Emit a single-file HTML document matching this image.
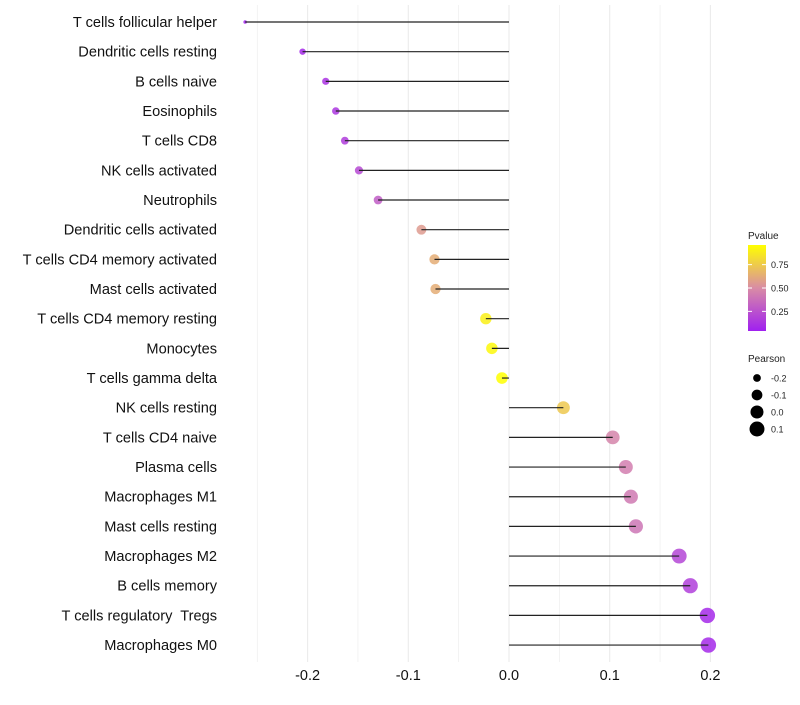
<!DOCTYPE html>
<html><head><meta charset="utf-8"><style>
body{margin:0;background:#fff;font-family:"Liberation Sans",sans-serif}
</style></head><body>
<svg id="c" width="800" height="700" xmlns="http://www.w3.org/2000/svg"></svg>
<script>
const categories=["T cells follicular helper","Dendritic cells resting","B cells naive","Eosinophils","T cells CD8","NK cells activated","Neutrophils","Dendritic cells activated","T cells CD4 memory activated","Mast cells activated","T cells CD4 memory resting","Monocytes","T cells gamma delta","NK cells resting","T cells CD4 naive","Plasma cells","Macrophages M1","Mast cells resting","Macrophages M2","B cells memory","T cells regulatory  Tregs","Macrophages M0"];
const pearson=[-0.262,-0.205,-0.182,-0.172,-0.163,-0.149,-0.130,-0.087,-0.074,-0.073,-0.023,-0.017,-0.007,0.054,0.103,0.116,0.121,0.126,0.169,0.180,0.197,0.198];
const pvalue=[0.05,0.08,0.12,0.14,0.16,0.22,0.3,0.56,0.63,0.63,0.9,0.93,0.96,0.74,0.47,0.44,0.42,0.4,0.2,0.17,0.08,0.08];
const xTicks=[-0.2,-0.1,0.0,0.1,0.2];
const xTickLabels=["-0.2","-0.1","0.0","0.1","0.2"];
const pTicks=[0.25,0.5,0.75];
const sizeTicks=[-0.2,-0.1,0.0,0.1];

const svg=document.getElementById('c');
const NS="http://www.w3.org/2000/svg";
function mk(t,a,p){const e=document.createElementNS(NS,t);for(const k in a)e.setAttribute(k,a[k]);(p||svg).appendChild(e);return e;}
const x=v=>509+v*1007;
const y=i=>22+i*29.67;
const rad=v=>Math.sqrt(3.2+Math.max(0,(v+0.262))/0.46*56);
function lerp(a,b,t){return a.map((c,i)=>Math.round(c+(b[i]-c)*t));}
function col(p){const t=Math.min(1,Math.max(0,(p-0.04)/0.92));
 const s=[[160,32,240],[217,140,165],[255,255,0]];
 const c=t<0.5?lerp(s[0],s[1],t*2):lerp(s[1],s[2],(t-0.5)*2);return `rgb(${c})`;}
for(let v=-0.25;v<=0.2001;v+=0.05){
 const g=mk('line',{x1:x(v),x2:x(v),y1:5,y2:662,stroke:'#ebebeb','stroke-width':Math.abs(Math.round(v*100)%10)===5?0.6:1.1});
 
}
xTicks.forEach((v,i)=>{
 const t=mk('text',{x:x(v),y:680,'text-anchor':'middle','font-size':14.5,fill:'#111'});t.textContent=xTickLabels[i];
 
});
categories.forEach((c,i)=>{
 const t=mk('text',{x:217,y:y(i)+5,'text-anchor':'end','font-size':14.6,fill:'#111',style:'white-space:pre'});t.textContent=c;
 
 const d=mk('circle',{cx:x(pearson[i]),cy:y(i),r:rad(pearson[i]),fill:col(pvalue[i]),'fill-opacity':0.85});
 
 const l=mk('line',{x1:x(0),x2:x(pearson[i]),y1:y(i),y2:y(i),stroke:'#222','stroke-width':1.2});
 
});
const defs=mk('defs',{});const lg=mk('linearGradient',{id:'g',x1:0,y1:1,x2:0,y2:0},defs);
[[0,0.04],[0.5,0.5],[1,0.96]].forEach(s=>mk('stop',{offset:s[0],'stop-color':col(s[1])},lg));
let t=mk('text',{x:748,y:239,'font-size':10,fill:'#222'});t.textContent='Pvalue';

const bar=mk('rect',{x:748,y:245,width:18,height:86,fill:'url(#g)'});

const py=p=>331-(p-0.04)/0.92*86;
pTicks.forEach(p=>{
 mk('line',{x1:748,x2:752,y1:py(p),y2:py(p),stroke:'#fff'});mk('line',{x1:762,x2:766,y1:py(p),y2:py(p),stroke:'#fff'});
 const tt=mk('text',{x:771,y:py(p)+3.5,'font-size':9,fill:'#222'});tt.textContent=p.toFixed(2);
 
});
t=mk('text',{x:748,y:362,'font-size':10,fill:'#222'});t.textContent='Pearson';

sizeTicks.forEach((v,i)=>{
 const cy=378+i*17;
 const c=mk('circle',{cx:757,cy:cy,r:rad(v)+0.6,fill:'#000'});
 
 const tt=mk('text',{x:771,y:cy+3.5,'font-size':9,fill:'#222'});tt.textContent=v.toFixed(1);
 
});
</script>
</body></html>
